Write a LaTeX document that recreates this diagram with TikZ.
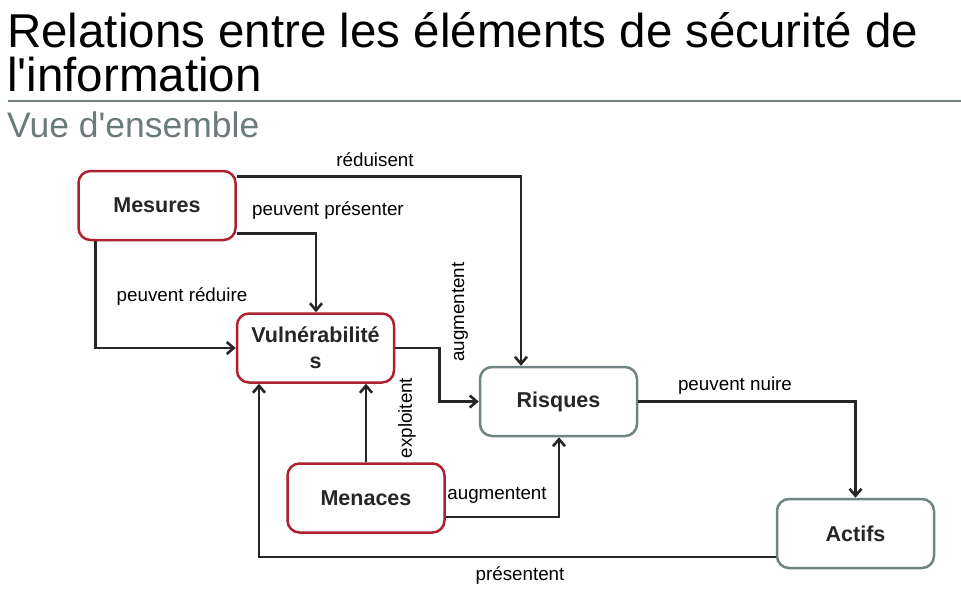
\documentclass[tikz,border=0pt]{standalone}
\usepackage{fontspec}
\setmainfont{Liberation Sans}
\usepackage{tikz}
\usetikzlibrary{arrows.meta}

\definecolor{rougebox}{HTML}{AE2230}
\definecolor{grisbox}{HTML}{718383}
\definecolor{grisligne}{HTML}{73817F}
\definecolor{grissous}{HTML}{6B7B7B}
\definecolor{trait}{HTML}{262626}

\tikzset{
  boite/.style={rectangle, rounded corners=12pt, line width=2.5pt, fill=white,
    minimum width=157pt, minimum height=69pt, inner sep=0pt, align=center,
    font=\fontsize{21.5}{26}\selectfont\bfseries, text=trait},
  boiterouge/.style={boite, draw=rougebox},
  boitegrise/.style={boite, draw=grisbox},
  fleche/.style={draw=trait, line width=2.6pt, -{Straight Barb[length=7pt,width=12pt]}},
  lbl/.style={font=\fontsize{18.8}{22}\selectfont, text=black, inner sep=0pt}
}

\begin{document}
\begin{tikzpicture}[x=1pt,y=-1pt]
  \useasboundingbox (0,0) rectangle (961,590);

  % titre
  \node (titre) [anchor=base west, align=left, inner sep=0pt,
    font=\fontsize{47.5}{44}\selectfont, text=black] at (7,91)
    {Relations entre les éléments de sécurité de\\l\textquotesingle information};
  \draw[grisligne, line width=2.6pt] (8,101) -- (961,101);
  \node (soustitre) [anchor=base west, inner sep=0pt,
    font=\fontsize{35.5}{40}\selectfont, text=grissous] at (7,137) {Vue d\textquotesingle ensemble};

  % boites
  \node[boiterouge] (mes) at (157,205.5) {Mesures};
  \node[boiterouge] (vul) at (315.5,348) {Vulnérabilité\\s};
  \node[boitegrise] (ris) at (558.5,401.5) {Risques};
  \node[boiterouge] (men) at (366,498) {Menaces};
  \node[boitegrise] (act) at (855.5,533.5) {Actifs};

  % liens
  \draw[fleche] ([yshift=-7pt]mes.north east) -| ([xshift=-37.5pt]ris.north);
  \draw[fleche] ([yshift=8pt]mes.south east) -| ([xshift=0.5pt]vul.north);
  \draw[fleche] ([xshift=18pt]mes.south west) |- (vul.west);
  \draw[fleche] (vul.east) -- ([xshift=44pt]vul.east) |- (ris.west);
  \draw[fleche] (men.north) -- (men.north |- vul.south);
  \draw[fleche] ([yshift=-19pt]men.east) -| ([xshift=0.5pt]ris.south);
  \draw[fleche] (ris.east) -| (act.north);
  \draw[fleche] ([yshift=-23.5pt]act.west) -| ([xshift=-56.5pt]vul.south);

  % etiquettes
  \node[lbl] (l-reduisent) at (375,160) {réduisent};
  \node[lbl] (l-presenter) at (328,211) {peuvent présenter};
  \node[lbl] (l-reduire) at (182,297) {peuvent réduire};
  \node[lbl, rotate=90] (l-augm1) at (460,312) {augmentent};
  \node[lbl, rotate=90] (l-exploit) at (407,418) {exploitent};
  \node[lbl] (l-augm2) at (497,495) {augmentent};
  \node[lbl] (l-nuire) at (735,386) {peuvent nuire};
  \node[lbl] (l-presentent) at (520,576) {présentent};
\end{tikzpicture}
\end{document}
